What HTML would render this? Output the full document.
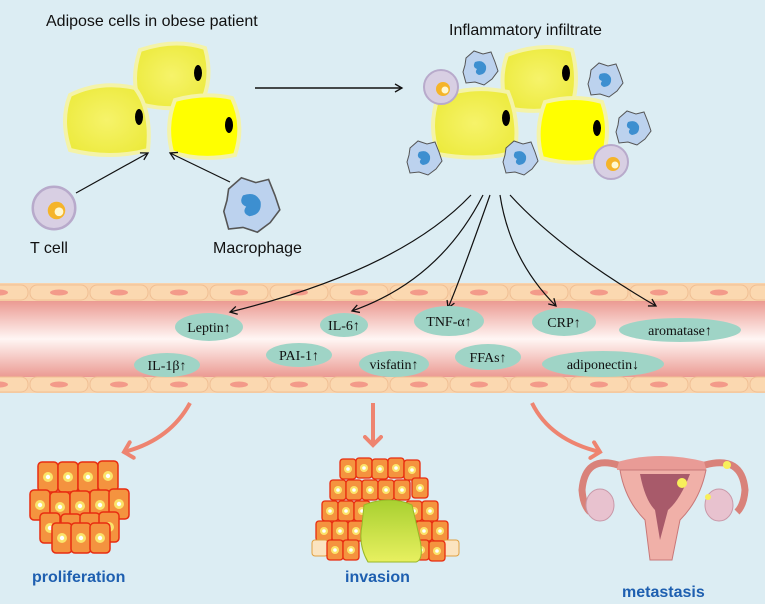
<!DOCTYPE html>
<html><head><meta charset="utf-8"><style>
html,body{margin:0;padding:0;background:#fff}
svg{display:block}
text{font-family:"Liberation Sans",sans-serif}
.c{font-family:"Liberation Serif",serif;font-size:14px;fill:#111;text-anchor:middle}
</style></head><body>
<svg width="765" height="604" viewBox="0 0 765 604" xmlns="http://www.w3.org/2000/svg">
<defs>
<linearGradient id="lum" x1="0" y1="0" x2="0" y2="1">
<stop offset="0" stop-color="#eb9a92"/><stop offset="0.5" stop-color="#fff6f4"/><stop offset="1" stop-color="#eb9a92"/>
</linearGradient>
<radialGradient id="yel" cx="0.5" cy="0.5" r="0.6"><stop offset="0" stop-color="#f6f36a"/><stop offset="1" stop-color="#ecea3c"/></radialGradient>
<linearGradient id="grn" x1="0" y1="0" x2="0" y2="1"><stop offset="0" stop-color="#a8d030"/><stop offset="1" stop-color="#e8f060"/></linearGradient>
<marker id="ah" markerWidth="10" markerHeight="10" refX="8" refY="5" orient="auto" markerUnits="userSpaceOnUse"><path d="M1,1 L8,5 L1,9" fill="none" stroke="#111" stroke-width="1.3"/></marker>
<marker id="oh" markerWidth="20" markerHeight="20" refX="10" refY="10" orient="auto" markerUnits="userSpaceOnUse"><path d="M2,2 L10,10 L2,18" fill="none" stroke="#ee8470" stroke-width="4" stroke-linecap="round"/></marker>
<g id="mac"><path d="M-14,-10 L-6,-17 L3,-14 L11,-16 L15,-6 L18,3 L12,11 L4,17 L-5,14 L-14,15 L-17,4 L-15,-3Z" fill="#bcd2ee" stroke="#555" stroke-width="1"/><path d="M-5,-6 Q3,-9 6,-2 Q7,6 -1,7 Q-6,5 -3,1 Q-8,-1 -5,-6Z" fill="#3d8fd0"/></g>
<g id="tc"><circle r="17" fill="#d8cfe3" stroke="#b8aacb" stroke-width="2"/><circle cx="2" cy="2" r="7" fill="#f5b429"/><circle cx="4" cy="3" r="3.5" fill="#fff8d0"/></g>
<g id="pc"><rect x="-10" y="-15" width="20" height="30" rx="4" fill="#f4933f" stroke="#e82c10" stroke-width="1.5"/><circle r="5" fill="#fbe36a"/><circle r="2.2" fill="#fff"/></g>
<g id="qc"><rect x="-8" y="-10" width="16" height="20" rx="3" fill="#f4933f" stroke="#e82c10" stroke-width="1.3"/><circle r="4" fill="#fbe36a"/><circle r="1.8" fill="#fff"/></g>
</defs>
<rect width="765" height="604" fill="#dcedf3"/>

<text x="46" y="26" font-size="16" fill="#111">Adipose cells in obese patient</text>
<text x="449" y="35" font-size="16" fill="#111">Inflammatory  infiltrate</text>

<!-- left adipose -->
<g stroke="#f4f3a8" stroke-width="4">
<path d="M140,50 Q175,38 205,48 Q214,80 200,105 Q170,112 140,104 Q130,80 140,50Z" fill="url(#yel)"/>
<path d="M70,95 Q100,80 135,88 Q152,110 148,150 Q110,160 70,150 Q60,120 70,95Z" fill="url(#yel)"/>
<path d="M175,100 Q205,92 232,98 Q245,125 235,155 Q200,162 172,152 Q165,125 175,100Z" fill="#ffff00"/>
</g>
<ellipse cx="198" cy="73" rx="4" ry="8"/><ellipse cx="139" cy="117" rx="4" ry="8"/><ellipse cx="229" cy="125" rx="4" ry="8"/>

<line x1="255" y1="88" x2="402" y2="88" stroke="#111" stroke-width="1.5" marker-end="url(#ah)"/>
<use href="#tc" transform="translate(54,208) scale(1.25)"/>
<use href="#mac" transform="translate(251,205) scale(1.6)"/>
<line x1="76" y1="193" x2="148" y2="153" stroke="#111" stroke-width="1.2" marker-end="url(#ah)"/>
<line x1="230" y1="182" x2="170" y2="153" stroke="#111" stroke-width="1.2" marker-end="url(#ah)"/>
<text x="30" y="253" font-size="16" fill="#111">T cell</text>
<text x="213" y="253" font-size="16" fill="#111">Macrophage</text>

<!-- right cluster -->
<g stroke="#f4f3a8" stroke-width="4">
<path d="M507,55 Q540,42 572,50 Q580,80 572,105 Q540,115 507,108 Q498,80 507,55Z" fill="url(#yel)"/>
<path d="M438,98 Q470,84 508,92 Q520,120 515,152 Q480,162 438,154 Q428,125 438,98Z" fill="url(#yel)"/>
<path d="M545,102 Q575,94 602,102 Q612,130 602,160 Q570,166 542,158 Q534,130 545,102Z" fill="#ffff00"/>
</g>
<ellipse cx="566" cy="73" rx="4" ry="8"/><ellipse cx="506" cy="118" rx="4" ry="8"/><ellipse cx="597" cy="128" rx="4" ry="8"/>
<use href="#tc" transform="translate(441,87)"/>
<use href="#tc" transform="translate(611,162)"/>
<use href="#mac" transform="translate(480,68)"/>
<use href="#mac" transform="translate(605,80)"/>
<use href="#mac" transform="translate(633,128)"/>
<use href="#mac" transform="translate(424,158)"/>
<use href="#mac" transform="translate(520,158)"/>

<!-- vessel -->
<rect x="0" y="283" width="765" height="110" fill="#f9d3ac"/>
<rect x="0" y="301" width="765" height="76" fill="url(#lum)"/>
<g fill="#fbd8b0" stroke="#f0bf94" stroke-width="1">
<g id="row">
<rect x="-30" y="285" width="58" height="15" rx="7"/><rect x="30" y="285" width="58" height="15" rx="7"/><rect x="90" y="285" width="58" height="15" rx="7"/><rect x="150" y="285" width="58" height="15" rx="7"/><rect x="210" y="285" width="58" height="15" rx="7"/><rect x="270" y="285" width="58" height="15" rx="7"/><rect x="330" y="285" width="58" height="15" rx="7"/><rect x="390" y="285" width="58" height="15" rx="7"/><rect x="450" y="285" width="58" height="15" rx="7"/><rect x="510" y="285" width="58" height="15" rx="7"/><rect x="570" y="285" width="58" height="15" rx="7"/><rect x="630" y="285" width="58" height="15" rx="7"/><rect x="690" y="285" width="58" height="15" rx="7"/><rect x="750" y="285" width="58" height="15" rx="7"/>
</g>
<use href="#row" transform="translate(0,92)"/>
</g>
<g fill="#f39a8a">
<g id="nuc"><ellipse cx="-1" cy="292.5" rx="9" ry="3"/><ellipse cx="59" cy="292.5" rx="9" ry="3"/><ellipse cx="119" cy="292.5" rx="9" ry="3"/><ellipse cx="179" cy="292.5" rx="9" ry="3"/><ellipse cx="239" cy="292.5" rx="9" ry="3"/><ellipse cx="299" cy="292.5" rx="9" ry="3"/><ellipse cx="359" cy="292.5" rx="9" ry="3"/><ellipse cx="419" cy="292.5" rx="9" ry="3"/><ellipse cx="479" cy="292.5" rx="9" ry="3"/><ellipse cx="539" cy="292.5" rx="9" ry="3"/><ellipse cx="599" cy="292.5" rx="9" ry="3"/><ellipse cx="659" cy="292.5" rx="9" ry="3"/><ellipse cx="719" cy="292.5" rx="9" ry="3"/></g>
<use href="#nuc" transform="translate(0,92)"/>
</g>

<!-- fan arrows -->
<g fill="none" stroke="#111" stroke-width="1.2" marker-end="url(#ah)">
<path d="M471,195 Q400,270 230,312"/>
<path d="M483,195 Q440,280 352,311"/>
<path d="M490,195 Q460,280 448,308"/>
<path d="M500,195 Q510,260 556,306"/>
<path d="M510,195 Q560,250 656,306"/>
</g>

<!-- cytokines -->
<g fill="#9fd4c6">
<ellipse cx="209" cy="327" rx="34" ry="14"/>
<ellipse cx="344" cy="325" rx="24" ry="12"/>
<ellipse cx="449" cy="321" rx="35" ry="15"/>
<ellipse cx="564" cy="322" rx="32" ry="14"/>
<ellipse cx="680" cy="330" rx="61" ry="12"/>
<ellipse cx="167" cy="365" rx="33" ry="12"/>
<ellipse cx="299" cy="355" rx="33" ry="12"/>
<ellipse cx="394" cy="364" rx="35" ry="13"/>
<ellipse cx="488" cy="357" rx="33" ry="13"/>
<ellipse cx="603" cy="364" rx="61" ry="13"/>
</g>
<text class="c" x="209" y="332">Leptin↑</text>
<text class="c" x="344" y="330">IL-6↑</text>
<text class="c" x="449" y="326">TNF-α↑</text>
<text class="c" x="564" y="327">CRP↑</text>
<text class="c" x="680" y="335">aromatase↑</text>
<text class="c" x="167" y="370">IL-1β↑</text>
<text class="c" x="299" y="360">PAI-1↑</text>
<text class="c" x="394" y="369">visfatin↑</text>
<text class="c" x="488" y="362">FFAs↑</text>
<text class="c" x="603" y="369">adiponectin↓</text>

<!-- orange arrows -->
<g fill="none" stroke="#ee8470" stroke-width="4" marker-end="url(#oh)">
<path d="M190,403 Q170,440 124,452"/>
<path d="M373,403 L373,445"/>
<path d="M532,403 Q550,440 600,452"/>
</g>

<!-- proliferation cluster -->
<g>
<use href="#pc" transform="translate(48,477)"/><use href="#pc" transform="translate(68,477)"/><use href="#pc" transform="translate(88,477)"/><use href="#pc" transform="translate(108,476)"/>
<use href="#pc" transform="translate(40,505)"/><use href="#pc" transform="translate(60,507)"/><use href="#pc" transform="translate(80,506)"/><use href="#pc" transform="translate(100,505)"/><use href="#pc" transform="translate(119,504)"/>
<use href="#pc" transform="translate(50,528)"/><use href="#pc" transform="translate(71,529)"/><use href="#pc" transform="translate(90,528)"/><use href="#pc" transform="translate(109,527)"/>
<use href="#pc" transform="translate(62,538)"/><use href="#pc" transform="translate(81,538)"/><use href="#pc" transform="translate(100,538)"/>
</g>
<text x="32" y="582" font-size="16" font-weight="bold" fill="#1e5fb0">proliferation</text>

<!-- invasion cluster -->
<g>
<use href="#qc" transform="translate(348,469)"/><use href="#qc" transform="translate(364,468)"/><use href="#qc" transform="translate(380,469)"/><use href="#qc" transform="translate(396,468)"/><use href="#qc" transform="translate(412,470)"/>
<use href="#qc" transform="translate(338,490)"/><use href="#qc" transform="translate(354,490)"/><use href="#qc" transform="translate(370,490)"/><use href="#qc" transform="translate(386,490)"/><use href="#qc" transform="translate(402,490)"/><use href="#qc" transform="translate(420,488)"/>
<use href="#qc" transform="translate(330,511)"/><use href="#qc" transform="translate(346,511)"/><use href="#qc" transform="translate(362,511)"/><use href="#qc" transform="translate(414,511)"/><use href="#qc" transform="translate(430,511)"/>
<use href="#qc" transform="translate(324,531)"/><use href="#qc" transform="translate(340,531)"/><use href="#qc" transform="translate(356,531)"/><use href="#qc" transform="translate(424,531)"/><use href="#qc" transform="translate(440,531)"/>
<rect x="312" y="540" width="16" height="16" rx="3" fill="#fbe4c0" stroke="#e0a040"/><rect x="443" y="540" width="16" height="16" rx="3" fill="#fbe4c0" stroke="#e0a040"/>
<use href="#qc" transform="translate(335,550)"/><use href="#qc" transform="translate(351,550)"/><use href="#qc" transform="translate(421,550)"/><use href="#qc" transform="translate(437,551)"/>
<path d="M364,505 Q390,495 412,505 L420,540 Q424,560 416,562 L368,562 Q358,545 362,525Z" fill="url(#grn)" stroke="#98b828"/>
</g>
<text x="345" y="582" font-size="16" font-weight="bold" fill="#1e5fb0">invasion</text>

<!-- uterus -->
<g>
<path d="M617,462 Q660,450 706,462 L706,470 L617,470Z" fill="#e99b96"/>
<path d="M620,470 L706,470 Q700,500 680,520 L672,560 L650,560 L645,520 Q625,500 620,470Z" fill="#f0b0a8" stroke="#c87878"/>
<path d="M640,474 L690,474 Q680,500 668,510 L660,540 L655,510 Q645,500 640,474Z" fill="#a85a6a"/>
<path d="M618,465 Q585,455 582,490 Q583,505 590,512" fill="none" stroke="#d9827a" stroke-width="7"/>
<path d="M705,465 Q742,455 745,490 Q744,505 737,512" fill="none" stroke="#d9827a" stroke-width="7"/>
<ellipse cx="600" cy="505" rx="14" ry="16" fill="#e8c2cf" stroke="#c898a8"/>
<ellipse cx="719" cy="505" rx="14" ry="16" fill="#e8c2cf" stroke="#c898a8"/>
<circle cx="682" cy="483" r="5" fill="#f8ef5a"/><circle cx="727" cy="465" r="4" fill="#f8ef5a"/><circle cx="708" cy="497" r="3" fill="#f8ef5a"/>
</g>
<text x="622" y="597" font-size="16" font-weight="bold" fill="#1e5fb0">metastasis</text>
</svg>
</body></html>
